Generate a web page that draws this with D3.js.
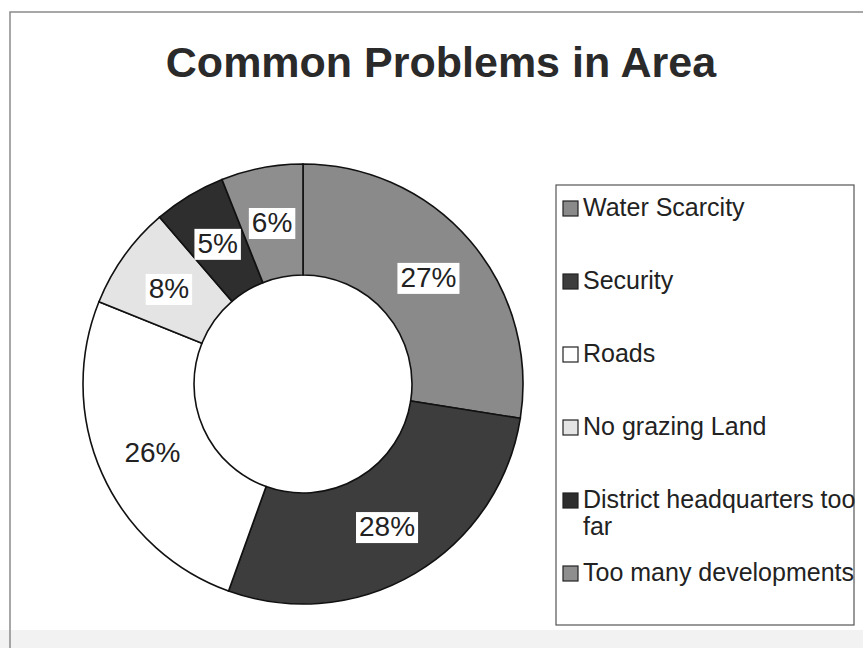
<!DOCTYPE html>
<html>
<head>
<meta charset="utf-8">
<script src="https://cdn.jsdelivr.net/npm/d3@7"></script>
<style>
  body { margin: 0; background: #fff; }
  text { font-family: Arial, "Liberation Sans", sans-serif; }
</style>
</head>
<body>
<div id="chart"></div>
<script>
// data (share of answers)
var categories = ["Water Scarcity", "Security", "Roads", "No grazing Land", "District headquarters too far", "Too many developments"];
var values = [27.49, 28.0, 25.6, 7.6, 5.3, 6.0];
var colors = ["#8a8a8a", "#3d3d3d", "#ffffff", "#e4e4e4", "#2e2e2e", "#8e8e8e"];
var legendLines = [["Water Scarcity"], ["Security"], ["Roads"], ["No grazing Land"], ["District headquarters too", "far"], ["Too many developments"]];

var W = 863, H = 648;
var cx = 303, cy = 384, outerR = 220, innerR = 109;

var svg = d3.select("#chart").append("svg")
    .attr("width", W)
    .attr("height", H);

// grey strip at the bottom of the scan
svg.append("rect").attr("x", 0).attr("y", 630).attr("width", W).attr("height", H - 630).attr("fill", "#f2f2f2");

// chart frame
svg.append("path")
    .attr("d", "M10," + H + " L10,12 L" + W + ",12")
    .attr("fill", "none")
    .attr("stroke", "#8a8a8a")
    .attr("stroke-width", 1.5);

// title
svg.append("text")
    .attr("x", 441)
    .attr("y", 77)
    .attr("text-anchor", "middle")
    .attr("font-size", "43px")
    .attr("font-weight", "bold")
    .attr("fill", "#2a2a2a")
    .text("Common Problems in Area");

var total = d3.sum(values);
var data = categories.map((c, i) => ({name: c, value: values[i], color: colors[i]}));

var pie = d3.pie().sort(null).value(d => d.value);
var arc = d3.arc().innerRadius(innerR).outerRadius(outerR);
var labelArc = d3.arc().innerRadius(165).outerRadius(165);

var g = svg.append("g").attr("transform", "translate(" + cx + "," + cy + ")");

var arcs = pie(data);

g.selectAll("path.slice")
    .data(arcs)
    .enter()
    .append("path")
    .attr("class", "slice")
    .attr("d", arc)
    .attr("fill", d => d.data.color)
    .attr("stroke", "#111")
    .attr("stroke-width", 1.6);

var fmt = d3.format(".0%");

var labels = g.selectAll("g.lab")
    .data(arcs)
    .enter()
    .append("g")
    .attr("class", "lab")
    .attr("transform", d => "translate(" + labelArc.centroid(d) + ")");

labels.append("rect").attr("fill", "#fff");
labels.append("text")
    .attr("text-anchor", "middle")
    .attr("dy", "0.36em")
    .attr("font-size", "28px")
    .attr("fill", "#222")
    .text(d => fmt(d.data.value / total));

labels.each(function () {
    var t = d3.select(this).select("text").node().getBBox();
    d3.select(this).select("rect")
        .attr("x", t.x - 3)
        .attr("y", t.y + 1)
        .attr("width", t.width + 6)
        .attr("height", t.height);
});

// legend
var legend = svg.append("g");
legend.append("rect")
    .attr("x", 556)
    .attr("y", 185)
    .attr("width", 298)
    .attr("height", 440)
    .attr("fill", "#fff")
    .attr("stroke", "#555")
    .attr("stroke-width", 1.2);

var legendY = d3.scaleLinear().domain([0, 1]).range([216, 289]);

var items = legend.selectAll("g.item")
    .data(data)
    .enter()
    .append("g")
    .attr("class", "item")
    .attr("transform", (d, i) => "translate(0," + legendY(i) + ")");

items.append("rect")
    .attr("x", 563)
    .attr("y", -15)
    .attr("width", 15)
    .attr("height", 15)
    .attr("fill", d => d.color)
    .attr("stroke", "#222")
    .attr("stroke-width", 1.2);

items.append("text")
    .attr("x", 583)
    .attr("y", 0)
    .attr("font-size", "25px")
    .attr("fill", "#222")
    .selectAll("tspan")
    .data((d, i) => legendLines[i])
    .enter()
    .append("tspan")
    .attr("x", 583)
    .attr("dy", (d, j) => j === 0 ? 0 : 27)
    .text(d => d);
</script>
</body>
</html>
